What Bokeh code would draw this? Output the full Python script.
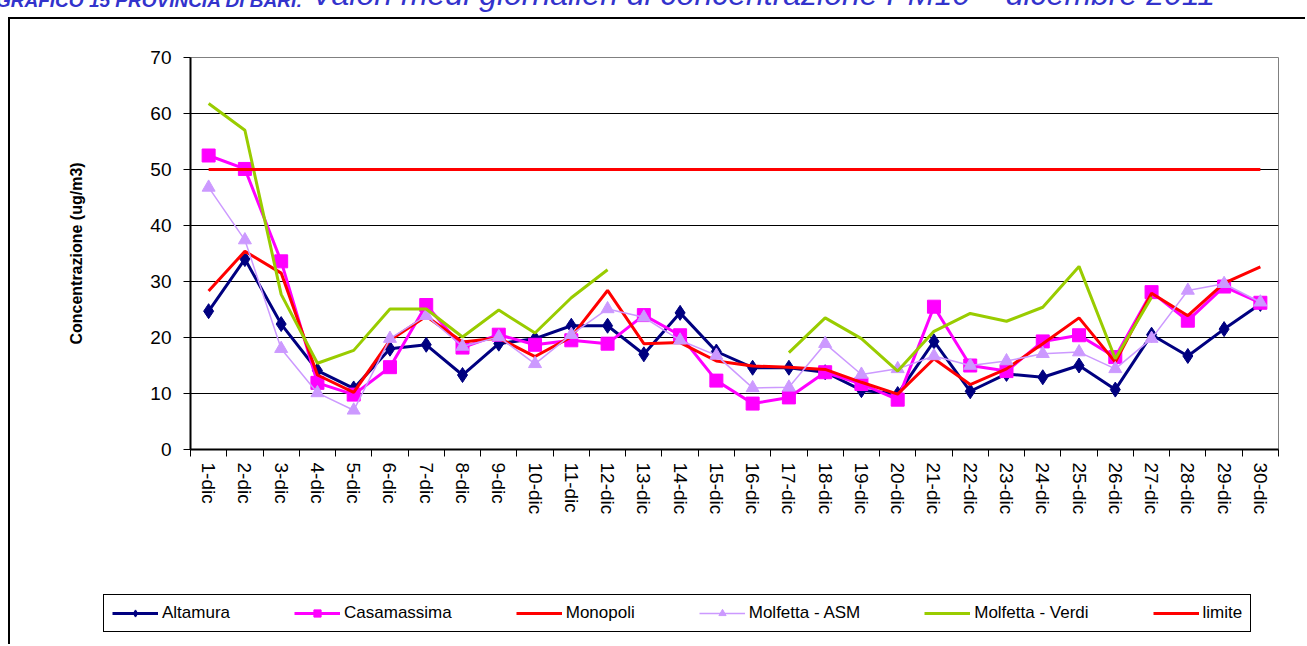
from bokeh.plotting import figure
from bokeh.layouts import column, row
from bokeh.models import (FixedTicker, Legend, LegendItem, Range1d, ColumnDataSource, Div)
from bokeh.embed import file_html
from bokeh.resources import INLINE

days = ["1-dic", "2-dic", "3-dic", "4-dic", "5-dic", "6-dic", "7-dic", "8-dic", "9-dic", "10-dic",
        "11-dic", "12-dic", "13-dic", "14-dic", "15-dic", "16-dic", "17-dic", "18-dic", "19-dic", "20-dic",
        "21-dic", "22-dic", "23-dic", "24-dic", "25-dic", "26-dic", "27-dic", "28-dic", "29-dic", "30-dic"]

altamura = [24.7, 34.0, 22.4, 14.1, 10.9, 18.0, 18.7, 13.3, 18.9, 19.8,
            22.1, 22.1, 17.0, 24.4, 17.5, 14.6, 14.6, 13.8, 10.6, 9.9,
            19.3, 10.4, 13.5, 12.9, 15.0, 10.7, 20.5, 16.7, 21.5, 26.0]
casamassima = [52.5, 50.1, 33.6, 11.9, 9.8, 14.7, 25.8, 18.2, 20.5, 18.7,
               19.5, 18.9, 24.0, 20.4, 12.3, 8.2, 9.3, 13.8, 11.7, 8.9,
               25.5, 15.0, 14.0, 19.3, 20.4, 16.5, 28.1, 23.0, 29.1, 26.2]
monopoli = [28.3, 35.4, 31.5, 13.3, 10.2, 19.5, 23.8, 19.2, 19.9, 16.6,
            20.1, 28.4, 18.9, 19.1, 15.8, 14.9, 14.7, 14.3, 12.0, 9.9,
            16.2, 11.6, 14.4, 18.9, 23.5, 15.6, 27.9, 23.9, 29.7, 32.6]
molfetta_asm = [46.8, 37.4, 18.0, 10.1, 7.0, 19.8, 23.9, 18.4, 20.1, 15.3,
                20.5, 25.1, 23.6, 19.5, 16.8, 11.0, 11.1, 18.9, 13.4, 14.4,
                16.7, 15.0, 15.8, 17.1, 17.4, 14.4, 19.8, 28.4, 29.6, 26.3]
nan = float("nan")
molfetta_verdi = [61.8, 57.0, 27.7, 15.4, 17.7, 25.1, 25.1, 20.1, 24.9, 20.8,
                  27.1, 32.1, nan, nan, nan, nan, 17.3, 23.5, 19.8, 14.0,
                  21.1, 24.3, 22.9, 25.4, 32.7, 16.2, 27.2, nan, nan, nan]
limite = [50, 50, 50, 50, 50, 50, 50, 50, 50, 50,
          50, 50, 50, 50, 50, 50, 50, 50, 50, 50,
          50, 50, 50, 50, 50, 50, 50, 50, 50, 50]

y_ticks = [0, 10, 20, 30, 40, 50, 60, 70]

FONT = "Liberation Sans"
xs = list(range(1, len(days) + 1))

title_html = (
    '<div style="position:relative;top:-21px;left:-4px;white-space:nowrap;'
    'font-family:\'Liberation Sans\',Arial,sans-serif;color:#3333CC;font-style:italic;line-height:30px;">'
    '<span style="font-size:19px;font-weight:bold;position:relative;top:2px;">GRAFICO 15 PROVINCIA DI BARI:</span>'
    '<span style="font-size:32px;"> Valori medi giornalieri di concentrazione PM10 &ndash; dicembre 2011</span>'
    '</div>'
)
title_div = Div(text=title_html, width=1307, height=17, margin=0, styles={"overflow": "hidden"})

p = figure(width=1297, height=561, output_backend="svg", toolbar_location=None,
           x_range=Range1d(0.5, len(days) + 0.5), y_range=Range1d(0, 70),
           min_border_left=180, min_border_right=29, min_border_top=38, min_border_bottom=131)
p.margin = (0, 0, 0, 8)
p.styles = {"border-top": "2px solid black", "border-left": "2px solid black"}
p.background_fill_color = "white"
p.border_fill_color = "white"
p.outline_line_color = "#808080"
p.outline_line_width = 1

p.xgrid.visible = False
p.ygrid.ticker = FixedTicker(ticks=y_ticks[1:-1])
p.ygrid.grid_line_color = "black"
p.ygrid.grid_line_width = 1

p.yaxis.ticker = FixedTicker(ticks=y_ticks)
p.yaxis.axis_line_color = "black"
p.yaxis.axis_line_width = 2
p.yaxis.major_tick_out = 7
p.yaxis.major_tick_in = 0
p.yaxis.major_tick_line_color = "black"
p.yaxis.minor_tick_line_color = None
p.yaxis.major_label_text_font = FONT
p.yaxis.major_label_text_font_size = "19px"
p.yaxis.major_label_text_color = "black"
p.yaxis.major_label_standoff = 12
p.yaxis.axis_label = "Concentrazione (ug/m3)"
p.yaxis.axis_label_text_font = FONT
p.yaxis.axis_label_text_font_size = "16px"
p.yaxis.axis_label_text_font_style = "bold"
p.yaxis.axis_label_text_color = "black"
p.yaxis.axis_label_standoff = 62

p.xaxis.ticker = FixedTicker(ticks=xs, minor_ticks=[x - 0.5 for x in xs] + [len(xs) + 0.5])
p.xaxis.major_label_overrides = {x: d for x, d in zip(xs, days)}
p.xaxis.axis_line_color = "black"
p.xaxis.axis_line_width = 2
p.xaxis.major_tick_out = 0
p.xaxis.major_tick_in = 0
p.xaxis.minor_tick_out = 7
p.xaxis.minor_tick_in = 0
p.xaxis.minor_tick_line_color = "black"
p.xaxis.major_label_orientation = "vertical"
p.xaxis.major_label_text_font = FONT
p.xaxis.major_label_text_font_size = "19px"
p.xaxis.major_label_text_color = "black"
p.xaxis.major_label_standoff = 6

src = ColumnDataSource(dict(x=xs, alt=altamura, cas=casamassima, mon=monopoli,
                            asm=molfetta_asm, ver=molfetta_verdi, lim=limite))

series = [
    ("Altamura", "alt", "#000080", 3, "diamond", 15),
    ("Casamassima", "cas", "#FF00FF", 3, "square", 13),
    ("Monopoli", "mon", "#FF0000", 3, None, 0),
    ("Molfetta - ASM", "asm", "#CC99FF", 1.5, "triangle", 13),
    ("Molfetta - Verdi", "ver", "#99CC00", 3, None, 0),
    ("limite", "lim", "#FF0000", 3, None, 0),
]


def draw(fig):
    items = []
    for label, col, color, lw, marker, size in series:
        rs = [fig.line("x", col, source=src, line_color=color, line_width=lw)]
        if marker:
            rs.append(fig.scatter("x", col, source=src, marker=marker, size=size,
                                  fill_color=color, line_color=color))
        items.append(LegendItem(label=label, renderers=rs))
    return items


draw(p)

# legend strip below the chart (a separate figure whose frame holds only the legend)
lf = figure(width=1297, height=66, output_backend="svg", toolbar_location=None,
            x_range=Range1d(-100, -99), y_range=Range1d(-100, -99),
            x_axis_location=None, y_axis_location=None,
            min_border=0, min_border_left=0, min_border_right=0,
            min_border_top=0, min_border_bottom=0)
lf.styles = {"border-left": "2px solid black"}
lf.grid.visible = False
lf.outline_line_color = None
lf.background_fill_color = "white"
lf.border_fill_color = "white"
legend_items = draw(lf)

legend = Legend(items=legend_items, orientation="horizontal", location=(93, 12),
                border_line_color="black", border_line_width=1, border_line_alpha=1,
                background_fill_color="white", background_fill_alpha=1,
                padding=8, margin=0, spacing=64,
                glyph_width=46, glyph_height=18, label_standoff=4, label_height=18,
                label_text_font=FONT, label_text_font_size="17px", label_text_color="black")
lf.add_layout(legend, "center")

legend_row = row(lf, margin=(0, 0, 0, 8))
layout = column(title_div, p, legend_row, spacing=0)
open("out.html", "w").write(file_html(layout, INLINE))
